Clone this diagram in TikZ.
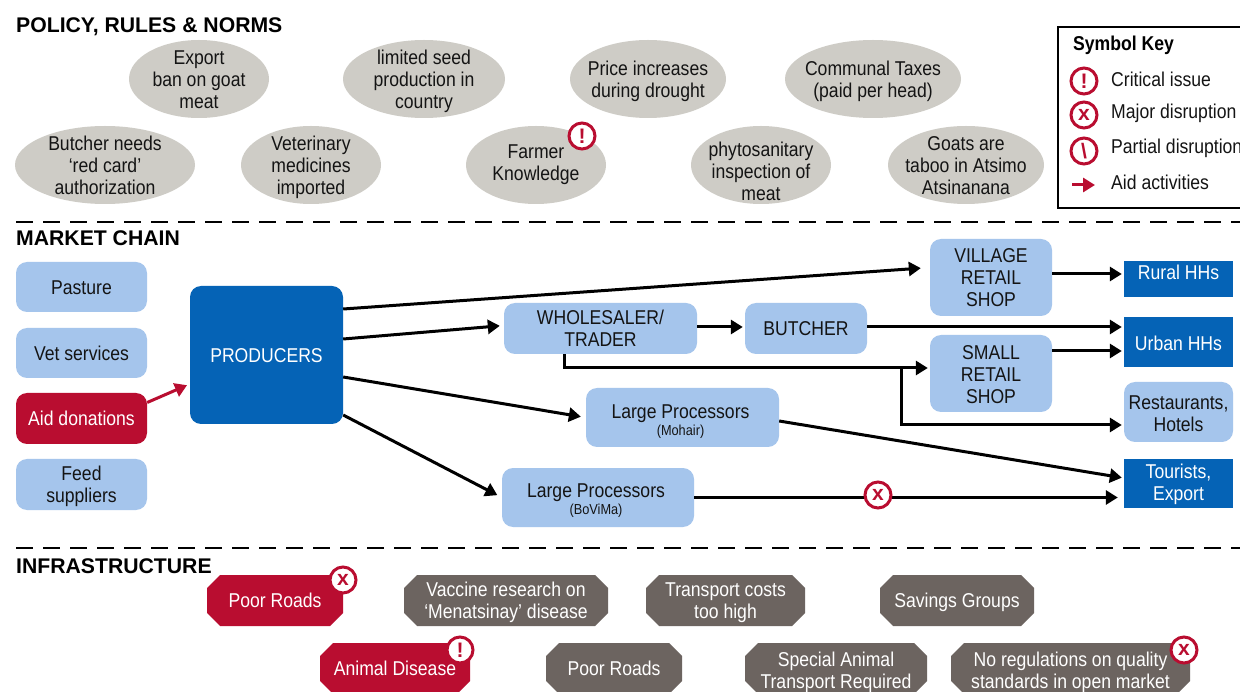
\documentclass[tikz,border=0pt]{standalone}
\usepackage{fontspec}
\setmainfont[FakeStretch=0.88]{Liberation Sans}
\newfontfamily\headfont[FakeStretch=1.0]{Liberation Sans}
\usetikzlibrary{shapes.geometric,shapes.misc,arrows.meta}
\definecolor{lblue}{HTML}{A5C5EC}
\definecolor{dblue}{HTML}{0563B6}
\definecolor{cred}{HTML}{B90D30}
\definecolor{egrey}{HTML}{CECCC6}
\definecolor{dgrey}{HTML}{6C6460}
\newcommand{\fs}[2]{\fontsize{#1}{#2}\selectfont}
\newcommand{\tl}[2][0]{\raisebox{\dimexpr -#1pt-8pt\relax}[0pt][0pt]{\makebox[0pt]{\begin{tabular}[c]{@{}c@{}}#2\end{tabular}}}}
\tikzset{
 x=1pt,y=-1pt,
 txt/.style={inner sep=0pt,align=center,font=\fs{20}{22},text=black!92},
 heading/.style={inner sep=0pt,anchor=west,font=\headfont\bfseries\fs{21.2}{22}},
 oval/.style={txt,ellipse,fill=egrey,minimum width=#1,minimum height=78pt},
 lbox/.style 2 args={txt,rectangle,rounded corners=11pt,fill=lblue,minimum width=#1,minimum height=#2},
 dbox/.style 2 args={txt,rectangle,fill=dblue,text=white,minimum width=#1,minimum height=#2},
 octo/.style 2 args={txt,rectangle,text=white,minimum width=#1,minimum height=51pt,
   path picture={\fill[#2]
     ([xshift=13pt]path picture bounding box.north west) --
     ([xshift=-13pt]path picture bounding box.north east) --
     ([yshift=-13pt]path picture bounding box.north east) --
     ([yshift=13pt]path picture bounding box.south east) --
     ([xshift=-13pt]path picture bounding box.south east) --
     ([xshift=13pt]path picture bounding box.south west) --
     ([yshift=13pt]path picture bounding box.south west) --
     ([yshift=-13pt]path picture bounding box.north west) -- cycle;}},
 badge/.style={circle,draw=cred,fill=white,line width=3pt,minimum size=26pt,inner sep=0pt,text=cred,font=\headfont\bfseries\fs{21}{21}},
 keytxt/.style={txt,anchor=west,align=left},
 arr/.style={draw=black,line width=3pt,-{Triangle[length=12pt,width=14pt]}},
 redarr/.style={draw=cred,line width=3pt,-{Triangle[length=12pt,width=14pt]}},
 sepline/.style={draw=black,line width=2.6pt,dash pattern=on 17pt off 10pt},
}
\begin{document}
\begin{tikzpicture}
\useasboundingbox (0,0) rectangle (1240,692);
\clip (0,0) rectangle (1240,692);
\fill[white] (0,0) rectangle (1240,692);

\node[heading] (h1) at (16,27) {POLICY, RULES \& NORMS};
\node[heading] (h2) at (16,238) {MARKET CHAIN};
\node[heading] (h3) at (16,566) {INFRASTRUCTURE};

\coordinate (s1a) at (16,222); \coordinate (s1b) at (1240,222);
\coordinate (s2a) at (16,548); \coordinate (s2b) at (1240,548);
\draw[sepline] (s1a) -- (s1b);
\draw[sepline] (s2a) -- (s2b);

\node[oval=140pt] (o1) at (199,79) {\tl{Export\\ban on goat\\meat}};
\node[oval=162pt] (o2) at (424,79) {\tl{limited seed\\production in\\country}};
\node[oval=156pt] (o3) at (648,79) {\tl{Price increases\\during drought}};
\node[oval=176pt] (o4) at (873,79) {\tl{Communal Taxes\\(paid per head)}};
\node[oval=180pt] (o5) at (105,165) {\tl{Butcher needs\\‘red card’\\authorization}};
\node[oval=140pt] (o6) at (311,165) {\tl{Veterinary\\medicines\\imported}};
\node[oval=140pt] (o7) at (536,165) {\tl[-3]{Farmer\\Knowledge}};
\node[oval=140pt] (o8) at (761,165) {\tl[6]{phytosanitary\\inspection of\\meat}};
\node[oval=156pt] (o9) at (966,165) {\tl{Goats are\\taboo in Atsimo\\Atsinanana}};

\node[badge] (b1) at (582,136) {!};

% key
\node[draw=black,line width=2.4pt,minimum width=200pt,minimum height=181pt,inner sep=0pt,anchor=north west] (key) at (1057,26) {};
\node[inner sep=0pt,anchor=west,font=\bfseries\fs{20}{20}] (kt) at (1073,45) {Symbol Key};
\node[badge] (k1) at (1084,81) {!};
\node[badge] (k2) at (1084,115) {x};
\node[badge] (k3) at (1084,151) {\textbackslash};
\node[keytxt] (kl1) at (1111,79) {Critical issue};
\node[keytxt] (kl2) at (1111,113) {Major disruption};
\node[keytxt] (kl3) at (1111,148) {Partial disruption};
\node[keytxt] (kl4) at (1111,182) {Aid activities};
\coordinate (ka) at (1072,185); \coordinate (kb) at (1095,185);
\draw[redarr] (ka) -- (kb);

% inputs
\node[lbox={131pt}{50pt}] (pasture) at (81.5,287) {\tl{Pasture}};
\node[lbox={131pt}{50pt}] (vet) at (81.5,353) {\tl{Vet services}};
\node[lbox={131pt}{51pt},fill=cred,text=white] (aid) at (81.5,418.5) {\tl{Aid donations}};
\node[lbox={131pt}{51pt}] (feed) at (81.5,484.5) {\tl{Feed\\suppliers}};
\node[lbox={153pt}{138pt},fill=dblue,text=white] (prod) at (266.5,355) {\tl{PRODUCERS}};

\node[lbox={193pt}{51pt}] (whole) at (600.5,328.5) {\tl{WHOLESALER/\\TRADER}};
\node[lbox={122pt}{51pt}] (butcher) at (806,328.5) {\tl{BUTCHER}};
\node[lbox={122pt}{77pt}] (village) at (991,277.5) {\tl{VILLAGE\\RETAIL\\SHOP}};
\node[lbox={122pt}{77pt}] (small) at (991,373.5) {\tl[1]{SMALL\\RETAIL\\SHOP}};
\node[lbox={193pt}{59pt}] (moh) at (682.5,417.5) {\tl[2]{\makebox[0pt]{\hspace{-4pt}Large Processors}\\[-5pt]\makebox[0pt]{\hspace{-4pt}\fs{14.5}{14}(Mohair)}}};
\node[lbox={192pt}{59pt}] (bov) at (598,497.5) {\tl[1]{\makebox[0pt]{\hspace{-4pt}Large Processors}\\[-5pt]\makebox[0pt]{\hspace{-4pt}\fs{14.5}{14}(BoViMa)}}};

\node[dbox={109pt}{36pt}] (rural) at (1178.5,279.5) {\tl[-7]{Rural HHs}};
\node[dbox={109pt}{50pt}] (urban) at (1178.5,342) {\tl[1]{Urban HHs}};
\node[lbox={109pt}{60pt}] (rest) at (1178.5,412) {\tl[1]{Restaurants,\\Hotels}};
\node[dbox={109pt}{49pt}] (tour) at (1178.5,483.5) {\tl[-1]{Tourists,\\Export}};

% connectors
\draw[redarr,shorten >=3pt] ([yshift=16pt]aid.east) -- ([yshift=-29pt]prod.west);
\draw[arr,shorten >=9pt] ([yshift=46pt]prod.east) -- ([yshift=10pt]village.west);
\draw[arr,shorten >=4pt] ([yshift=16pt]prod.east) -- ([yshift=3pt]whole.west);
\draw[arr,shorten >=5pt] ([yshift=-22pt]prod.east) -- (moh.west);
\draw[arr,shorten >=5pt] ([yshift=-60pt]prod.east) -- (bov.west);
\draw[arr,shorten >=2pt] ([yshift=1.5pt]whole.east) -- ([yshift=1.5pt]butcher.west);
\draw[arr,shorten >=2pt] ([yshift=1.5pt]butcher.east) -- ([yshift=15pt]urban.west);
\draw[arr,shorten >=2pt] ([yshift=3.5pt]village.east) -- ([yshift=5.5pt]rural.west);
\draw[arr,shorten >=2pt] ([yshift=22.5pt]small.east) -- ([yshift=-9pt]urban.west);
\coordinate (wdrop) at ([xshift=-36.5pt]whole.south);
\coordinate (turn) at (564,368);
\coordinate (branch) at (901,368);
\coordinate (bturn) at (901,425);
\draw[arr,shorten >=2pt] (wdrop) -- (turn) -- (small.west |- turn);
\draw[arr,shorten >=2pt] (branch) -- (bturn) -- (rest.west |- bturn);
\draw[arr,shorten >=2pt] ([yshift=-3.5pt]moh.east) -- ([yshift=5.5pt]tour.west);
\draw[arr,shorten >=6pt] (bov.east) -- ([yshift=-14pt]tour.west);
\node[badge] (bx) at (878,495) {x};

% infrastructure
\node[octo={136pt}{cred}] (r1) at (275,600.5) {\tl{Poor Roads}};
\node[octo={204pt}{dgrey}] (r2) at (506,600.5) {\tl{Vaccine research on\\‘Menatsinay’ disease}};
\node[octo={159pt}{dgrey}] (r3) at (725.5,600.5) {\tl{Transport costs\\too high}};
\node[octo={154pt}{dgrey}] (r4) at (957,600.5) {\tl{Savings Groups}};
\node[octo={150pt}{cred}] (r5) at (395,668.5) {\tl{Animal Disease}};
\node[octo={136pt}{dgrey}] (r6) at (614,668.5) {\tl{Poor Roads}};
\node[octo={182pt}{dgrey}] (r7) at (836,668.5) {\tl[2]{Special Animal\\Transport Required}};
\node[octo={239pt}{dgrey}] (r8) at (1070.5,668.5) {\tl[2]{No regulations on quality\\standards in open market}};
\node[badge] (b2) at (343,580) {x};
\node[badge] (b3) at (460,650) {!};
\node[badge] (b4) at (1184,650) {x};
\end{tikzpicture}
\end{document}
